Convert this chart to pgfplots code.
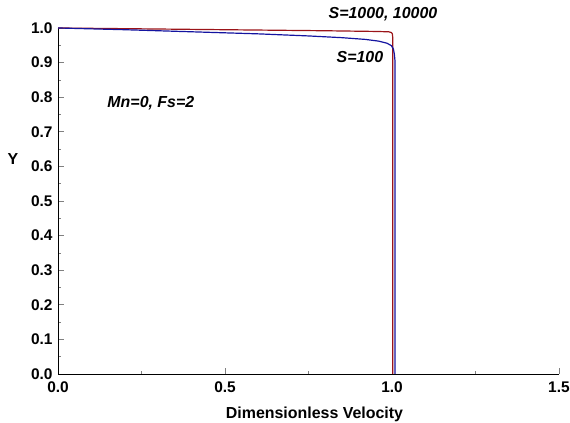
\documentclass[border=0pt]{standalone}
\usepackage{fontspec}
\setmainfont{Liberation Sans}
\usepackage{pgfplots}
\pgfplotsset{compat=1.18}

\definecolor{sred}{RGB}{155,20,25}
\definecolor{sblue}{RGB}{20,20,160}

\begin{document}
\begin{tikzpicture}
\begin{axis}[
    scale only axis,
    width=501bp, height=346bp,
    xmin=0, xmax=1.5, ymin=0, ymax=1.0,
    axis x line*=bottom, axis y line*=left,
    axis line style={-, black, line width=0.8pt},
    xtick={0,0.5,1.0,1.5}, ytick={0,0.1,...,1.0},
    minor x tick num=1, minor y tick num=1,
    tick align=inside,
    major tick length=6bp, minor tick length=3bp,
    every tick/.style={gray, line width=0.6pt},
    xticklabel style={/pgf/number format/fixed, /pgf/number format/fixed zerofill, /pgf/number format/precision=1},
    yticklabel style={/pgf/number format/fixed, /pgf/number format/fixed zerofill, /pgf/number format/precision=1},
    /pgf/number format/assume math mode=true,
    ticklabel style={font=\fontsize{15.5}{17}\selectfont\bfseries},
    xticklabel shift=4bp, yticklabel shift=2bp,
    clip=false,
]
\addplot[sred, line width=1.2pt] coordinates {
(0,1.0)(0.2,0.998)(0.4,0.996)(0.6,0.994)(0.8,0.992)(0.95,0.990)(0.99,0.989)(0.998,0.987)(1.001,0.983)(1.002,0.975)(1.002,0.95)(1.002,0.0)
};
\addplot[sblue, line width=1.2pt] coordinates {
(0,1.0)(0.2,0.995)(0.4,0.989)(0.6,0.983)(0.75,0.977)(0.85,0.972)(0.92,0.967)(0.96,0.962)(0.985,0.956)(0.998,0.949)(1.004,0.94)(1.007,0.925)(1.009,0.905)(1.009,0.0)
};
\node[font=\fontsize{16}{18}\selectfont\bfseries\itshape, anchor=center] at (axis cs:0.973,1.040) {S=1000, 10000};
\node[font=\fontsize{16}{18}\selectfont\bfseries\itshape, anchor=center] at (axis cs:0.904,0.916) {S=100};
\node[font=\fontsize{16}{18}\selectfont\bfseries\itshape, anchor=center] at (axis cs:0.278,0.783) {Mn=0, Fs=2};
\node[font=\fontsize{16}{18}\selectfont\bfseries, anchor=center] at (rel axis cs:-0.0898,0.621) {Y};
\node[font=\fontsize{16}{18}\selectfont\bfseries, anchor=center] at (rel axis cs:0.512,-0.116) {Dimensionless Velocity};
\coordinate (bbl) at (rel axis cs:-0.1158,-0.1416);
\coordinate (btr) at (rel axis cs:1.0220,1.0809);
\end{axis}
\pgfresetboundingbox
\path[use as bounding box] (bbl) rectangle (btr);
\end{tikzpicture}
\end{document}
